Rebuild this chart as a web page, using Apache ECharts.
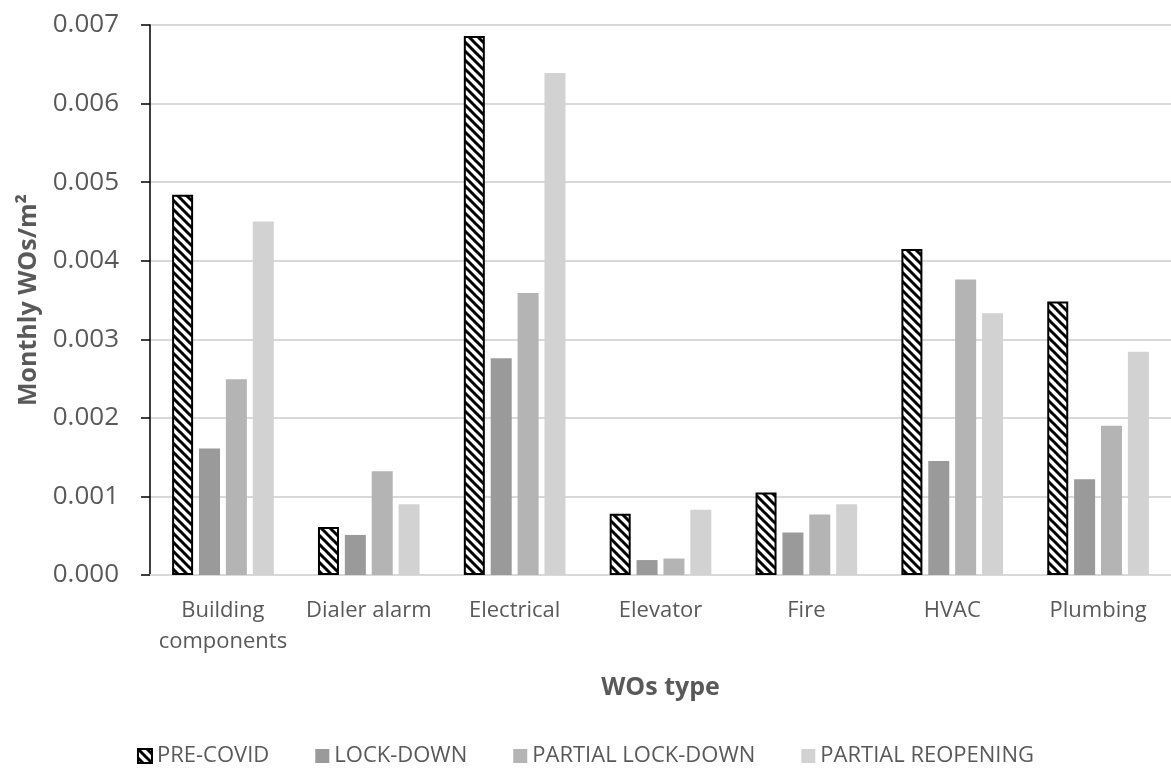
<!DOCTYPE html>
<html>
<head>
<meta charset="utf-8">
<script src="https://cdn.jsdelivr.net/npm/echarts@6/dist/echarts.min.js"></script>
<style>
  html, body { margin: 0; padding: 0; background: #fff; }
  #chart { width: 1171px; height: 769px; }
</style>
</head>
<body>
<div id="chart"></div>
<script>
// Work-order types on the category axis
const categories = ['Building\ncomponents', 'Dialer alarm', 'Electrical', 'Elevator', 'Fire', 'HVAC', 'Plumbing'];

// Monthly work orders per square metre, by period
const preCovid = [0.00484, 0.00061, 0.00686, 0.00078, 0.00105, 0.00415, 0.00348];
const lockDown = [0.00161, 0.00051, 0.00276, 0.00019, 0.00054, 0.00145, 0.00122];
const partialLockDown = [0.00249, 0.00132, 0.00359, 0.00021, 0.00077, 0.00376, 0.00190];
const partialReopening = [0.00450, 0.00090, 0.00639, 0.00083, 0.00090, 0.00333, 0.00284];

const seriesNames = ['PRE-COVID', 'LOCK-DOWN', 'PARTIAL LOCK-DOWN', 'PARTIAL REOPENING'];

// Diagonal hatch fill (top-left to bottom-right stripes)
function makeHatch() {
  const s = 9;
  const c = document.createElement('canvas');
  c.width = s; c.height = s;
  const ctx = c.getContext('2d');
  ctx.fillStyle = '#fff';
  ctx.fillRect(0, 0, s, s);
  ctx.strokeStyle = '#000';
  ctx.lineWidth = 3;
  ctx.beginPath();
  ctx.moveTo(-2, -2); ctx.lineTo(s + 2, s + 2);
  ctx.moveTo(-3, s - 3); ctx.lineTo(3, s + 3);
  ctx.moveTo(s - 3, -3); ctx.lineTo(s + 3, 3);
  ctx.stroke();
  return c;
}
const hatch = { image: makeHatch(), repeat: 'repeat' };

const textColor = '#595959';
const font = 'Open Sans';

const chart = echarts.init(document.getElementById('chart'), null, { renderer: 'canvas' });

const barBase = { type: 'bar', barWidth: 21, barGap: '28%' };

chart.setOption({
  animation: false,
  backgroundColor: '#fff',
  textStyle: { fontFamily: font, color: textColor },
  grid: { left: 150, right: -7, top: 25, bottom: 194, containLabel: false },
  legend: {
    bottom: 2,
    left: 'center',
    padding: 0,
    itemWidth: 14,
    itemHeight: 14,
    itemGap: 46,
    icon: 'rect',
    textStyle: { fontFamily: font, fontSize: 22, color: textColor },
    data: seriesNames
  },
  xAxis: {
    type: 'category',
    data: categories,
    name: 'WOs type',
    nameLocation: 'middle',
    nameGap: 100,
    nameTextStyle: { fontFamily: font, fontSize: 25, fontWeight: 'bold', color: textColor },
    axisLine: { show: true, lineStyle: { color: '#d9d9d9', width: 2 } },
    axisTick: { show: false },
    axisLabel: { fontFamily: font, fontSize: 22, color: textColor, margin: 20, lineHeight: 31, interval: 0 }
  },
  yAxis: {
    type: 'value',
    min: 0,
    max: 0.007,
    interval: 0.001,
    name: 'Monthly WOs/m²',
    nameLocation: 'middle',
    nameGap: 109,
    nameTextStyle: { fontFamily: font, fontSize: 25, fontWeight: 'bold', color: textColor },
    axisLine: { show: true, lineStyle: { color: '#000', width: 1.5 } },
    axisTick: { show: true, inside: false, length: 9, lineStyle: { color: '#000', width: 1.5 } },
    axisLabel: {
      fontFamily: font, fontSize: 26, color: textColor, margin: 31,
      formatter: v => v.toFixed(3)
    },
    splitLine: { show: true, lineStyle: { color: '#d9d9d9', width: 2 } }
  },
  series: [
    Object.assign({}, barBase, {
      name: seriesNames[0], data: preCovid,
      itemStyle: { color: hatch, borderColor: '#000', borderWidth: 2 }
    }),
    Object.assign({}, barBase, {
      name: seriesNames[1], data: lockDown,
      itemStyle: { color: '#9a9a9a' }
    }),
    Object.assign({}, barBase, {
      name: seriesNames[2], data: partialLockDown,
      itemStyle: { color: '#b4b4b4' }
    }),
    Object.assign({}, barBase, {
      name: seriesNames[3], data: partialReopening,
      itemStyle: { color: '#d2d2d2' }
    })
  ]
});
</script>
</body>
</html>
